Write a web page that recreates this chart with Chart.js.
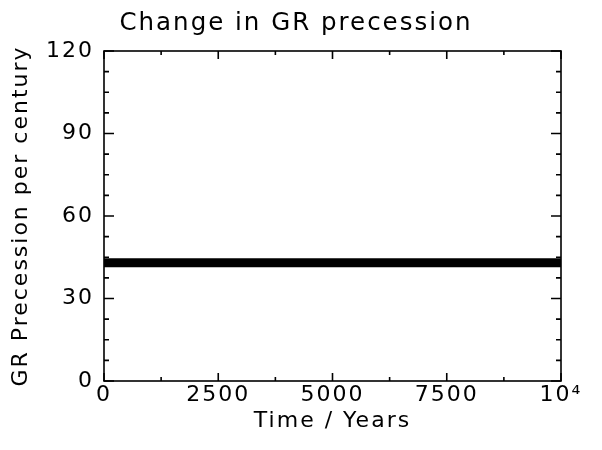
<!DOCTYPE html>
<html>
<head>
<meta charset="utf-8">
<script src="https://cdn.jsdelivr.net/npm/chart.js@4/dist/chart.umd.min.js"></script>
<style>
  html, body { margin: 0; padding: 0; background: #fff; }
  #wrap { width: 602px; height: 450px; }
</style>
</head>
<body>
<div id="wrap"><canvas id="chart"></canvas></div>
<script>
// GR perihelion precession (arcsec per century) over time
const years = [0, 2500, 5000, 7500, 10000];
const precession = [43, 43, 43, 43, 43];

const xTicks = [0, 2500, 5000, 7500, 10000];
const yTicks = [0, 30, 60, 90, 120];
const xMinorStep = 1250;
const yMinorStep = 7.5;

const FONT = "'DejaVu Sans', sans-serif";

// wider lettering, closer to a plotter stroke font
const spacing = {
  id: 'spacing',
  beforeUpdate(chart) { chart.ctx.letterSpacing = '2px'; },
  beforeDraw(chart) { chart.ctx.letterSpacing = '2px'; }
};

// box around the plot with inward ticks on all four sides
const frame = {
  id: 'frame',
  afterDatasetsDraw(chart) {
    const { ctx, chartArea: a, scales: { x, y } } = chart;
    ctx.save();
    ctx.strokeStyle = '#000';
    ctx.lineWidth = 1.6;
    ctx.strokeRect(a.left, a.top, a.right - a.left, a.bottom - a.top);
    ctx.beginPath();
    for (let v = x.min; v <= x.max + 1e-6; v += xMinorStep) {
      const px = x.getPixelForValue(v);
      const len = xTicks.includes(v) ? 8 : 4;
      ctx.moveTo(px, a.bottom); ctx.lineTo(px, a.bottom - len);
      ctx.moveTo(px, a.top); ctx.lineTo(px, a.top + len);
    }
    for (let v = y.min; v <= y.max + 1e-6; v += yMinorStep) {
      const py = y.getPixelForValue(v);
      const len = yTicks.includes(v) ? 10 : 5;
      ctx.moveTo(a.left, py); ctx.lineTo(a.left + len, py);
      ctx.moveTo(a.right, py); ctx.lineTo(a.right - len, py);
    }
    ctx.stroke();
    ctx.restore();
  }
};

new Chart(document.getElementById('chart'), {
  type: 'line',
  data: {
    datasets: [{
      data: years.map((t, i) => ({ x: t, y: precession[i] })),
      borderColor: '#000',
      borderWidth: 9,
      borderCapStyle: 'butt',
      pointRadius: 0,
      fill: false
    }]
  },
  options: {
    responsive: true,
    maintainAspectRatio: false,
    animation: false,
    layout: { padding: { left: 31, right: 41, top: 0, bottom: 0 } },
    plugins: {
      legend: { display: false },
      tooltip: { enabled: false },
      title: {
        display: true,
        text: 'Change in GR precession',
        color: '#000',
        font: { family: FONT, size: 24.5, weight: 'normal' },
        padding: { top: 9, bottom: 12.6 }
      }
    },
    scales: {
      x: {
        type: 'linear',
        min: 0,
        max: 10000,
        afterBuildTicks(s) { s.ticks = xTicks.map(v => ({ value: v })); },
        grid: { display: false, drawTicks: false },
        border: { display: false },
        ticks: {
          color: '#000',
          font: { family: FONT, size: 22 },
          padding: 1,
          maxRotation: 0,
          autoSkip: false,
          callback: v => (v === 10000 ? '10⁴' : String(v))
        },
        title: {
          display: true,
          text: 'Time / Years',
          color: '#000',
          font: { family: FONT, size: 22 },
          padding: { top: 0, bottom: 16 }
        },
        afterFit(s) { s.height = 69; }
      },
      y: {
        min: 0,
        max: 120,
        afterBuildTicks(s) { s.ticks = yTicks.map(v => ({ value: v })); },
        grid: { display: false, drawTicks: false },
        border: { display: false },
        ticks: {
          color: '#000',
          font: { family: FONT, size: 22 },
          padding: 10,
          autoSkip: false
        },
        title: {
          display: true,
          text: 'GR Precession per century',
          color: '#000',
          font: { family: FONT, size: 22 },
          padding: { top: -23, bottom: 0 }
        },
        afterFit(s) { s.width = 73; }
      }
    }
  },
  plugins: [spacing, frame]
});
</script>
</body>
</html>
